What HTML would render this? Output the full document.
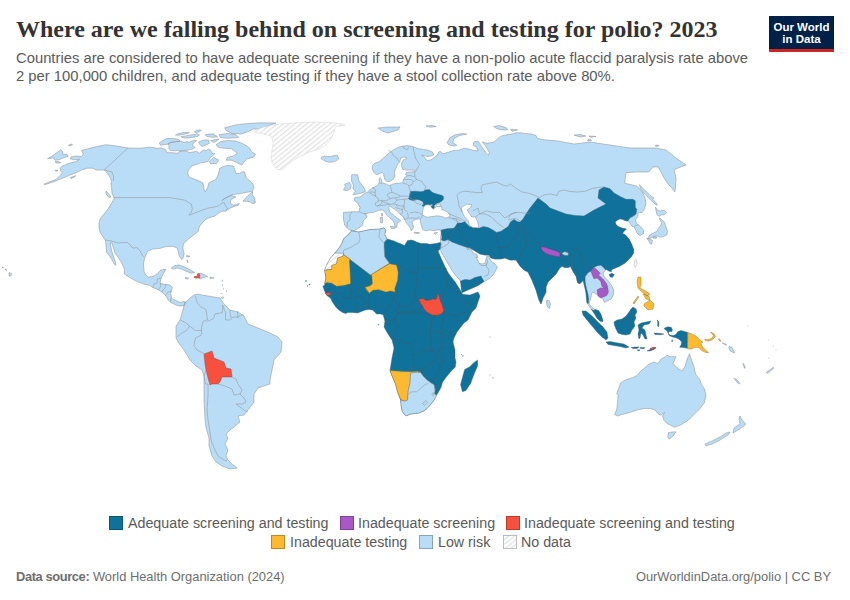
<!DOCTYPE html>
<html><head><meta charset="utf-8"><style>
html,body{margin:0;padding:0;background:#fff;}
body{width:850px;height:600px;position:relative;overflow:hidden;font-family:"Liberation Sans",Arial,sans-serif;}
.t{position:absolute;white-space:nowrap;}
#title{left:16px;top:16px;font-family:"Liberation Serif","DejaVu Serif",serif;font-weight:bold;font-size:24px;color:#333;letter-spacing:0px;}
.sub{left:16px;font-size:14.8px;color:#5b5b5b;}
#logo{position:absolute;left:769px;top:16px;width:65px;height:36px;background:#002147;}
#logo .bar{position:absolute;left:0;bottom:0;width:65px;height:3px;background:#ce261e;}
#logo .l{position:absolute;left:0;width:65px;text-align:center;color:#fff;font-weight:bold;font-size:11.5px;}
.lg{font-size:14.25px;color:#5a5a5a;}
.sw{position:absolute;width:14px;height:14px;box-sizing:border-box;border:1px solid rgba(0,0,0,0.25);}
.foot{font-size:12.9px;color:#6e6e6e;}
</style></head><body>
<svg width="850" height="600" viewBox="0 0 850 600" style="position:absolute;left:0;top:0">
<defs><pattern id="hatch" width="3.7" height="4" patternUnits="userSpaceOnUse" patternTransform="rotate(51)"><rect width="3.7" height="4" fill="#fff"/><line x1="0.6" y1="0" x2="0.6" y2="4" stroke="#e2e2e2" stroke-width="1.3"/></pattern></defs>
<path d="M62.6,172.9 L56,179.5 L49.4,181.9 L43.8,184.2 L44.5,184.8 L54.1,181.6 L61.6,178.6 L68.2,175.8 L72.9,173.9 L77.6,172 L81.4,170.1 L87.1,168.2 L92.7,168.2 L96.5,170.1 L101.2,170.1 L104.9,170.1 L106.5,172.5 L108.5,175 L110.5,178 L111.5,181.4 L111,184 L111.5,187.1 L112,193 L114,198 L114,199 L111,204 L108,209 L104,214 L100,219 L99,223 L99,227 L100,232.4 L102.4,235.9 L105.3,240 L105.9,244.1 L106.5,252.4 L108.8,254.7 L111.8,259.4 L114.1,264.1 L115.9,265.3 L115.3,261.8 L114.1,258.2 L111.8,251.2 L110.6,245.3 L110,243 L111.8,243 L112.9,246.5 L115.3,253.5 L118.8,258.2 L122.4,264.1 L124.7,270 L124.1,273.5 L127.1,275.9 L131.8,278.8 L137.6,281.8 L143.5,284.1 L149.4,285.3 L152.9,287.6 L157.6,289.4 L162.4,292.4 L165.9,295.9 L168.2,300 L171,302.5 L174,304 L177,305.5 L180,306 L184,305.5 L186.5,303.5 L186,302 L184,301.5 L180,302.5 L176,300.5 L173,299.5 L171.8,298.2 L170.6,293.5 L172.4,287.6 L170.6,285.3 L167,284.5 L163.5,284.1 L160,283 L161.2,278.2 L163.5,273.5 L165.9,269.4 L163,269.6 L160,270.6 L157.6,273.5 L152.9,276.5 L148.2,277.1 L145,274 L144.1,271.2 L143.5,264.1 L144.7,257.6 L145.3,256.2 L147.6,251.5 L152.4,249.1 L159.4,248.5 L165.3,246.8 L172.4,246.2 L177.1,247.9 L178.2,251.5 L179.4,256.2 L181.8,259.7 L182.9,258.5 L184.1,253.8 L182.9,247.9 L183.5,243.8 L187.6,239.7 L193.5,235 L198.2,231.5 L199.4,226.8 L201.8,223.2 L205.3,219.7 L210,217.4 L214.7,216.2 L218,213.5 L221.8,211.2 L225.3,211.2 L231.2,207.6 L238.2,205.3 L239.4,203.5 L233.5,205.3 L230,203 L231.2,199.4 L235.9,197 L231.2,195.3 L225.3,198.2 L221.8,200.6 L224.5,198.5 L227.6,197.1 L232.4,194.7 L240.6,193.5 L246.5,192.4 L252.4,191.2 L254.1,187.6 L252.4,182.9 L246.5,178.2 L244.5,172 L242.9,171.5 L239.4,173.5 L235.9,173.5 L235,170 L233.2,166 L228,165.5 L224.7,166 L219.4,168.6 L219.4,170 L218.2,174.7 L215.9,179.4 L208.8,182.9 L207.6,187.6 L205.3,191.8 L204.1,190 L203,182.9 L198.2,180.6 L188.8,177.1 L187.6,172 L188.5,170 L192.2,165.8 L200.7,163 L207.8,161.6 L210.6,157.4 L214.8,153.8 L212,153.1 L210.6,150.3 L208.5,149 L206.4,150.5 L203.6,150 L201.5,151.2 L199.4,153.3 L196.6,151.2 L193.8,151.9 L189.5,152.6 L186.7,151.2 L185.3,150.8 L182,151.5 L179,151.6 L177.5,153.3 L171.2,152.6 L167,152.8 L165.5,149.5 L161.3,148 L157.1,148.3 L152.8,147.6 L150,147 L145,147.8 L140,148.2 L128,148 L120,146.6 L113.4,145.6 L105.9,144.7 L96.5,146.6 L89,148.5 L81.4,150.4 L83.3,154.1 L81.4,156.5 L75.8,156 L71.1,156.9 L70.1,158.8 L73.9,159.8 L79.5,159.3 L75.8,161.6 L68.2,163.5 L61.6,166.4 L60.2,168.2 L60.7,171.1Z" fill="#b9ddf7" stroke="#8a8a8a" stroke-width="0.5" stroke-linejoin="round"/>
<path d="M159.2,143 L162.7,140.6 L167,138.5 L173.3,138.5 L178.2,139.2 L180.3,141 L176.8,141.3 L171.2,142.3 L168.3,144.1 L164.1,144.8 L160.6,145.2ZM168.3,143.4 L171.2,142.3 L180.3,141.3 L184.6,142.3 L187.4,141.3 L188.1,142.7 L190.9,141.3 L193.8,140.6 L196.6,140.6 L193.8,142.7 L192.3,144.8 L195.2,147.6 L192.3,149 L189.5,149.8 L185.3,150.5 L179.6,150.5 L174,150.8 L170.5,150.5 L168.7,148.3 L169.1,146.2ZM175.4,134.9 L179.6,133.2 L183.9,132.5 L189.5,132.1 L188.1,133.2 L183.2,134.6 L178.2,135.3ZM181.1,136.7 L185.3,136 L190.9,134.9 L195.2,134.6 L196.6,133.5 L199.4,134.9 L198,136.3 L192.3,137.4 L186.7,138.1 L183.2,137.8ZM194.5,131.4 L198,130 L201.5,130 L199.4,131.8 L195.2,132.5ZM205,134.8 L210,134 L213.4,134 L217.6,136.9 L212,137.3 L207,136.5ZM198.7,142 L203.6,139.9 L208.6,139.9 L209.3,143.4 L206,145 L202,146.5 L199.4,144.1ZM210.6,140.4 L219,139 L216,141.5 L213.4,142.5ZM219,134.8 L227.5,133.4 L236,134.8 L238.8,137.6 L227.5,138.3 L220.5,137.6ZM224.7,127.7 L236,124.9 L247.3,123.5 L260,122.8 L276,123 L268,126 L258,129 L253,129.1 L247.3,131.9 L241.7,134 L231.8,133.4 L226.1,130.5ZM216.2,144.6 L220.5,141.8 L227.5,140.4 L236,141.1 L241.7,143.2 L247.3,146.1 L250.1,148.9 L251.5,151.7 L255.8,154.5 L252.9,157.4 L247.3,158.8 L244.5,161.6 L241.7,165.1 L237.4,163 L231.8,160.2 L226.1,160.2 L227.5,157.4 L233.2,156 L237.4,153.1 L231.8,148.9 L224.7,148.2 L219,147.5 L217,146.1ZM209.2,161.6 L213.4,157.4 L219,160.2 L216.2,163.7 L210.6,163.7ZM242.9,201.2 L246.5,197.1 L251.2,192.4 L252.9,191.8 L252.4,194.7 L254.7,198.2 L255.3,202.9 L252.4,203.5 L250,201.8 L246.5,201.2ZM106,191 L108,193 L111,197 L109,197.5 L106,194ZM47.5,158.8 L52.2,156 L60.7,149.9 L63,151.8 L62.6,154.1 L67.3,154.6 L68.2,156.5 L64.5,157.4 L58.8,159.8 L55.1,160.2 L53.2,157.9ZM70.1,177.6 L75.8,175.8 L74,177.2 L71.1,178.6ZM68.5,145 L72,144 L72.5,145 L69,145.8ZM55,161.8 L58,161.4 L60.7,162.6 L57,163.2ZM55,170.2 L57.5,170 L57.8,171 L55.5,171.2Z" fill="#b9ddf7" stroke="#8a8a8a" stroke-width="0.5" stroke-linejoin="round"/>
<path d="M254,130.5 L261,127.7 L270,125.5 L278,124.2 L287,123.4 L296.5,122.8 L307,122.3 L317.7,122 L326,122.2 L333.2,122.8 L340,123.8 L345.2,125.2 L340,125.8 L336,126.3 L335,129 L333.9,132 L331.8,137.6 L329,141.5 L326.1,144.7 L323,147 L319,148.9 L315,150.3 L310.6,151.7 L305.5,153.8 L300.7,156 L297,158 L293.6,160.2 L290,163 L286.6,165.8 L283.5,168.5 L281,170.1 L277.8,169.2 L275.3,167.2 L272.8,164 L271.1,160.2 L271.2,156 L271.8,151.7 L272.5,147.5 L273.2,143.2 L272.5,139.5 L271.1,136.2 L266,134.5 L261.2,133.4 L255.5,132.6Z" fill="url(#hatch)" stroke="#d2d2d2" stroke-width="0.5" stroke-linejoin="round"/>
<path d="M321.2,157.4 L324.7,156 L327.5,156.5 L330.4,156.6 L334,155.6 L337.4,155.2 L338.8,158.8 L336.8,160.5 L334.6,161.6 L331.8,162 L329,162.3 L326,161.4 L323.3,160.2 L321.5,159Z" fill="#b9ddf7" stroke="#8a8a8a" stroke-width="0.5" stroke-linejoin="round"/>
<path d="M171.2,268 L174.7,265.6 L179.4,265 L184.1,266.8 L188.8,269.1 L194.7,272.6 L191.2,273.2 L186.5,271.5 L181.8,269.1 L177.1,268 L172.4,269.1ZM194.1,276.8 L197.1,276.2 L197.6,273.8 L200.6,273.2 L204.1,274.4 L207.6,276.8 L202.9,277.4 L200.6,279.1 L198.2,277.9 L194.7,277.9ZM185.3,277.4 L188.8,278 L187.6,279.1 L185.3,278.5ZM210,277.2 L213.5,277.4 L213.5,278.4 L210,278.4ZM186.5,255.6 L190,256.2 L189,257 L186.5,256.6ZM187.1,259.7 L188.2,262.6 L187.4,262.6 L186.8,260Z" fill="#b9ddf7" stroke="#8a8a8a" stroke-width="0.5" stroke-linejoin="round"/>
<path d="M194.1,276.8 L197.1,276.2 L197.6,273.8 L199.4,273.5 L199.8,276 L200,277.9 L198.2,277.9 L194.7,277.9Z" fill="#f8503e" stroke="#8a5050" stroke-width="0.4" stroke-linejoin="round"/>
<path d="M9,272.5 L11.5,273.5 L11,276 L9,276ZM5,269 L7,270 L6.5,270.8ZM2,267 L3.5,267.5 L3,268Z" fill="#b9ddf7" stroke="#8a8a8a" stroke-width="0.5" stroke-linejoin="round"/>
<path d="M186,302 L190,298 L194,295 L198,294 L202,295 L208,296 L214,297 L220,298 L222,301 L224,304 L230,310 L238,312 L244,316 L248,324 L258,328 L270,333 L278,337 L282,342 L281,352 L274,360 L272,370 L270,380 L270,384 L258,388 L254,394 L254,402 L248,410 L244,415 L238,416 L240,422 L234,427 L230,430 L226,434 L228,438 L225,444 L228,450 L226,456 L228,460 L232,464 L237,468 L230,469 L222,466 L216,462 L212,456 L209,446 L209,438 L206,428 L205,420 L204,400 L204,386 L204,376 L202,370 L196,366 L190,360 L184,350 L178,342 L176,338 L176,326 L180,320 L184,306Z" fill="#b9ddf7" stroke="#8a8a8a" stroke-width="0.5" stroke-linejoin="round"/>
<path d="M204,354 L212,351 L214,358 L224,362 L226,368 L231,369 L232,377 L222,377 L220,382 L218,384 L212,384 L210,385 L208,378 L206,370 L205,364Z" fill="#f8503e" stroke="#7a4040" stroke-width="0.4" stroke-linejoin="round"/>
<path d="M352.9,231.2 L349.4,230 L347,227.6 L344.7,225.3 L343.5,219.4 L343.5,212.4 L351.8,211.8 L358.8,211.8 L360,207.6 L357.6,203 L354.1,200.6 L354.1,198.2 L356,197.4 L360,197 L364.5,193.5 L367.5,192 L369.8,189.8 L372,188.3 L375,186.8 L377.3,185.6 L378.6,183.8 L379.1,182.4 L379.1,178.6 L380.1,177.6 L381.5,179.5 L381.9,182.4 L383.8,183.3 L386.6,184.2 L389.5,185.6 L392.3,184.2 L396.1,183.3 L399.8,183.3 L402.6,182.4 L403.6,179.5 L404.5,177.6 L407.4,175.8 L405.5,174.8 L406.4,172.5 L410.2,172 L415.8,171.5 L416.3,170.6 L412.1,170.1 L406.4,170.1 L402.6,169.2 L401.7,166.4 L401.7,162.6 L403.6,159.8 L406.9,158.4 L404.5,156.9 L400.8,157.9 L399.8,161.6 L397.5,164.5 L396.1,168.2 L394.2,172 L395.1,175.8 L393.2,179.5 L389.5,181.4 L386.6,181.4 L384.8,179.5 L383.8,175.8 L383.8,173.9 L381.9,172.5 L379.1,173.9 L376.3,174.8 L373.5,172 L372.1,168.2 L372.5,165.4 L374.4,163.5 L379.1,161.6 L383.8,157.9 L387.6,154.1 L392.3,150.4 L397.9,147.5 L402.6,146.1 L407.4,145.6 L413,146.6 L417.7,148.5 L423.4,149.4 L429,150.4 L432.8,152.2 L433.7,155.1 L430.9,156 L427.1,156.5 L423.4,155.5 L421.5,155.1 L425.2,157.9 L427.1,160.7 L430.9,159.8 L432.8,158.8 L434.6,156.9 L437.5,155.1 L438.4,152.2 L440.3,151.3 L442.2,153.2 L444,153.5 L447.1,152.5 L454.1,150.4 L458.4,150.4 L464,148.2 L468.2,148.9 L473.9,150.4 L478.1,151.1 L476.7,147.5 L473.2,145.4 L473.9,141.9 L478.1,141.2 L480.9,145.4 L483.8,149.6 L486.6,153.9 L488,155.3 L489.4,152.5 L485.2,145.4 L482.4,141.9 L486.6,143.3 L492.2,142.6 L495.1,141.2 L497.9,138.4 L500.7,136.2 L506.4,134.8 L512,134.1 L516.2,132.7 L520.5,132.7 L524.7,133.4 L531.8,134.1 L536,135.5 L537.4,138.4 L544.5,139.8 L553,140.5 L560,141.2 L566,142.5 L574,144 L582,143 L590,142 L600,143.5 L610,145 L620,146.5 L630,148 L638,148 L646,148 L656,148 L666,150 L671,154 L676,158 L681,161.5 L686,165 L682,166.5 L678,168 L674,170 L676,178 L675.5,186 L675,192 L671,187 L668,184 L664,178 L661,172 L658,167 L653,167 L648.7,172 L636.7,172 L626,172.7 L624.7,183.3 L631.3,184.7 L636.7,186 L642,191.3 L644.7,196.7 L646,203.3 L644.7,208.7 L642,212.5 L638.3,212.8 L637.5,213.3 L638.3,214.8 L637.5,217 L635.3,220 L636.8,223.8 L639,225.3 L641.3,227.5 L643.5,230.5 L643.5,233.5 L640.5,235.4 L639,235 L636.8,232.8 L635.3,229 L633.8,226.8 L631.5,226 L630,223 L627.8,221.1 L625,220.5 L622.5,219.3 L620,218.8 L617.5,220 L615,222 L616,224.5 L618,226.5 L620.5,227.5 L622.5,228.3 L626.3,229 L623.3,232 L622.5,233.5 L625.5,235 L629.3,239.5 L631.5,244 L633,247.8 L633.8,250 L633.5,253 L631.1,257 L625.3,262.8 L619.5,266.3 L613.6,268.7 L611.3,269.8 L611.3,271.6 L609,271 L606.6,269.5 L605.5,269.8 L603.1,273.3 L604.3,276.8 L607.8,280.3 L611.3,285 L613.6,289.7 L613.6,294.3 L611.3,299 L606.6,301.3 L604.3,302.5 L603.1,299 L600.8,297.8 L598.5,296.6 L595,293.1 L592.7,292 L591.5,294.3 L590.3,300.1 L589.2,303.6 L591.5,307.1 L595,309.5 L598.5,310.6 L600.8,314.1 L602,317.6 L603,321.5 L600,321 L597,318 L594,313 L591,309 L588.5,305 L587,303 L586.5,298 L586,293 L585,288 L584,284 L583.3,280.3 L579.8,283.8 L577.5,282.7 L576.3,276.8 L572.8,271 L570.5,266.3 L568.2,267.5 L564.7,267.5 L562.3,266.3 L560,267.5 L556,274 L552,278 L548,282 L546,287 L546,292 L543,298 L541,304 L539,300 L536,290 L534,285 L532,280 L528,272 L524,270 L520,266 L516,260 L510,260 L505,258 L500,259 L495,259 L491,258 L489,255 L485,255 L480,254 L475,251 L469.5,247.5 L468,248 L471,248.8 L473,253 L477,254.5 L478,257.5 L476,257 L477,259 L479,263 L482,264 L485,263 L486,259 L487,256 L489,256 L489.5,258 L491,261 L495,264 L497.5,267 L496,270 L493,275 L489,279 L484,281.5 L478,285.5 L470,289 L462,292.5 L461.8,291 L461.5,289 L461,285 L460.5,281 L459,279 L456,276 L453,272 L450,267 L447,262 L444,257 L441,251.5 L440.3,248.8 L440.5,244 L440.5,237.5 L441.3,232.3 L440.5,230 L437.5,230 L433.8,230.8 L430,230 L425.5,230.8 L422.5,229.3 L421.8,227 L421,224 L420.3,221 L420.3,219.5 L418.8,218.8 L416.5,219.5 L413.5,220.3 L412,221.8 L412.8,224.8 L413.5,227 L412.8,229.3 L411.3,230.8 L410.5,228.5 L409,226.3 L406.8,223.3 L405.3,221 L404.5,218.8 L403,216.5 L400,214.3 L397,211.3 L394,209 L391,206.8 L389.5,206.5 L388.8,207.5 L389.5,211.3 L392.5,214.3 L396.3,217.3 L399.3,219.5 L400.8,221 L399.3,221.8 L397.8,222.5 L397,224.8 L397,227 L395.5,227.8 L394.5,224 L393,220.5 L390,218.3 L387,215.3 L384.8,212.3 L382.5,210 L380,210.2 L377.3,210.8 L373.5,212.3 L369,213 L364.5,213.8 L365.9,214.1 L367,217 L363.5,220.6 L362.4,225.3 L357.6,228.8Z" fill="#b9ddf7" stroke="#8a8a8a" stroke-width="0.5" stroke-linejoin="round"/>
<path d="M351.8,174.7 L357.6,174.7 L358.8,180.6 L361.2,184.1 L364.7,188.8 L365.3,191.8 L360,193.5 L352.9,194.7 L355.3,191.2 L352.9,188.8 L353.5,185.3 L351.8,181.8 L351.2,177ZM344.7,184.1 L349.4,182.4 L351.2,185.3 L350.6,188.8 L347,190.6 L343.5,190 L345.3,186.5ZM390.3,226.3 L394.8,226.8 L394.5,228.5 L391,228.3ZM380.3,217.5 L382.5,217.3 L382.5,222.8 L380.5,222.8ZM381.6,213.5 L382.6,213.5 L382.6,216 L381.6,216ZM433.8,233 L437.5,232.3 L435.3,234.5ZM414.3,232.3 L419.5,232.6 L419,233.4 L414.5,233.2ZM378,128 L388,127 L400,127 L398,130 L388,133 L382,131ZM426,126 L432,125.5 L436,126.5 L430,127.2ZM447.1,142.6 L449.9,137.6 L455.5,134.8 L462.6,133.4 L466.8,134.1 L459.8,135.5 L454.1,138.4 L452.7,142.6 L456.9,145.4 L454.1,146.1 L448.5,144.7ZM493.6,126.4 L499.3,125.6 L506.4,127.8 L507.8,129.9 L502.1,129.9 L496.5,128.5ZM574,135 L580,134.5 L586,136 L580,137ZM589,136 L596,136.5 L590,137.3ZM587.5,139.8 L590,139 L591.5,140.5 L588,141ZM655,145.5 L658,145 L659,146 L656,146.4ZM639.3,184.7 L644.7,190 L650,195.3 L654,198 L652.7,199.3 L656.7,203.3 L657.3,205.3 L654,203.3 L650,199.3 L644.7,194 L640.7,188.7ZM655.5,207.3 L657,209.5 L660,211 L664.5,210.3 L666.8,212.5 L664.5,214.8 L661.5,214.8 L659.3,216.3 L657,214.8 L656.3,211.8ZM659.3,217.8 L661.5,219.3 L664.5,222.3 L666,226.8 L667.5,231.3 L666.8,235 L663,236.5 L660,237.3 L657,235.8 L654,236.5 L651,238 L648,238.8 L649.5,235 L652.5,233.5 L657,231.3 L658.5,228.3 L660.8,225.3 L661.5,222.3 L660,220ZM646.5,238 L649.5,238.8 L652.5,240.3 L651.8,244 L650.3,244 L648.8,241ZM653.3,236.9 L657,236.9 L656.3,238.3 L653.3,238.3ZM547,300 L549,300.5 L550.5,304 L549.5,308.5 L547.5,307 L546.5,303ZM510.6,129.2 L517.6,129.9 L512,131.3Z" fill="#b9ddf7" stroke="#8a8a8a" stroke-width="0.5" stroke-linejoin="round"/>
<path d="M634.6,260.5 L636.4,259.3 L637,264 L635.2,267.5 L634,265.2Z" fill="url(#hatch)" stroke="#b0b0b0" stroke-width="0.5" stroke-linejoin="round"/>
<path d="M441.2,230 L447,228.8 L454.1,228.2 L457.6,223 L461.2,223 L464.7,221.8 L467,224.1 L469.4,226.5 L472.9,227.6 L478.8,228.2 L483.5,226.5 L488.2,227.6 L492.9,230 L496.5,232.4 L501.2,231.2 L504.7,228.8 L508.2,226.5 L510.6,221.8 L514.1,219.4 L517.6,221.8 L520,222 L523,219 L526,214 L530,208 L534,203 L538,198 L542,201 L546,204 L550,208 L558,211 L566,214 L575,215.5 L584,216 L589,213 L594,210 L600,207 L606,204 L602,201 L598,198 L599,190 L604,187 L610,188.7 L614,193 L620.7,196.7 L626,199.3 L632.7,199.3 L635.3,200.7 L635.3,207.3 L636.8,209.5 L636,214 L633,216.3 L630,217.8 L627.8,221.1 L625,220.5 L622.5,219.3 L620,218.8 L617.5,220 L615,222 L616,224.5 L618,226.5 L620.5,227.5 L622.5,228.3 L626.3,229 L623.3,232 L622.5,233.5 L625.5,235 L629.3,239.5 L631.5,244 L633,247.8 L633.8,250 L633.5,253 L631.1,257 L625.3,262.8 L619.5,266.3 L613.6,268.7 L611.3,269.8 L611.3,271.6 L609,271 L606.6,269.5 L605.5,269.8 L603,267 L600.8,265.2 L597.3,265.7 L593.8,267.5 L590.9,271 L588,272.7 L585.1,276.8 L585.1,281.5 L585.7,285 L586.8,289.7 L588,294.3 L588.6,299 L588.3,303.5 L587,303 L586.5,298 L586,293 L585,288 L584,284 L583.3,280.3 L579.8,283.8 L577.5,282.7 L576.3,276.8 L572.8,271 L570.5,266.3 L568.2,267.5 L564.7,267.5 L562.3,266.3 L560,267.5 L556,274 L552,278 L548,282 L546,287 L546,292 L543,298 L541,304 L539,300 L536,290 L534,285 L532,280 L528,272 L524,270 L520,266 L516,260 L510,260 L505,258 L500,259 L495,259 L491,258 L489,255 L485,255 L480,254 L475,251 L469.5,247.5 L468,247.8 L466,247 L460,245 L452,242 L448,239.5 L444,241 L441.5,240 L442,237 L441.3,234Z" fill="#10729a" stroke="#3c5a6e" stroke-width="0.4" stroke-linejoin="round"/>
<path d="M609,274.5 L611.9,273.3 L614.2,274.5 L612.5,277.4 L610.1,276.8Z" fill="#10729a" stroke="#3c5a6e" stroke-width="0.4" stroke-linejoin="round"/>
<path d="M410.2,191.5 L415.4,191.2 L420.5,191.7 L423.6,191.2 L424.7,190.2 L426.7,189.7 L429.8,189.7 L430.9,191.2 L433,192.8 L436.1,193.8 L438.6,194.6 L442.3,195.4 L443.6,196.9 L443.3,199.5 L442.3,200.5 L441.2,201.6 L440.2,202.1 L438.6,202.9 L437.1,203.1 L435.5,204.2 L435,204.7 L434,205.7 L434.5,207.3 L433.5,208.8 L431.9,207.8 L430.9,206.2 L432.4,205.7 L433,204.7 L431.9,204.2 L429.8,204.7 L427.8,204.2 L425.7,204.7 L424.7,205.2 L424.2,206.2 L422.6,206.2 L422.1,205.2 L423.6,204.2 L423.1,202.1 L421.6,201 L419.5,200 L417.4,199.5 L415.4,200 L413.3,200.5 L410.7,200 L408.6,199 L409.1,196.9 L409.7,194.3 L410.2,192.8Z" fill="#10729a" stroke="#3c5a6e" stroke-width="0.4" stroke-linejoin="round"/>
<path d="M460.5,281 L465,279.5 L470,280 L475,277.5 L481,276 L484,281.5 L478,285.5 L470,289 L462,292.5 L461.8,291 L461.5,289 L461,285Z" fill="#10729a" stroke="#3c5a6e" stroke-width="0.4" stroke-linejoin="round"/>
<path d="M595,309.5 L598.5,310.6 L600.8,314.1 L602,317.6 L603,321.5 L600,321 L597,318 L594,313 L591.5,309.5 L593.8,310.6Z" fill="#10729a" stroke="#3c5a6e" stroke-width="0.4" stroke-linejoin="round"/>
<path d="M541.5,246.5 L546,247.5 L550,249 L555,250.5 L559,252 L560.5,254 L559.5,257 L555,256.2 L550,255 L546,253.5 L542.5,251 L541,248.5Z" fill="#a858c8" stroke="#5a3a6a" stroke-width="0.4" stroke-linejoin="round"/>
<path d="M561.7,253.5 L564.7,251.7 L568.2,252.9 L568.2,255.2 L564.7,255.2Z" fill="#b9ddf7" stroke="#8a8a8a" stroke-width="0.5" stroke-linejoin="round"/>
<path d="M590.9,271 L593.8,267.5 L596.2,269.2 L598.5,271.6 L600.2,273.3 L598.5,275.1 L603.1,279.2 L606.6,283.8 L607.8,287.3 L604.3,288.5 L602,286.2 L600.8,281.5 L597.3,278 L593.8,278.6 L592.7,275.7Z" fill="#a858c8" stroke="#5a3a6a" stroke-width="0.4" stroke-linejoin="round"/>
<path d="M597.3,289.7 L600.8,287.9 L604.3,288.5 L607.8,287.9 L608.4,292 L606.6,295.5 L604.3,296.6 L600.8,297.8 L598.5,296.1 L597.3,293.1Z" fill="#a858c8" stroke="#5a3a6a" stroke-width="0.4" stroke-linejoin="round"/>
<path d="M422.5,214.3 L422.8,210 L423.5,207.5 L424.5,206.3 L425.7,205.2 L428,205 L429.8,205.2 L430.9,206.5 L431.9,208.2 L433.5,209.2 L435,207.8 L436.5,206.6 L439,206.8 L441.3,206.3 L442,209.8 L445,210.5 L448,212.5 L450,215.3 L448.2,217.6 L445,218 L442,216.5 L437.5,215.8 L431.5,216.5 L427,217.3 L422.5,215ZM461.2,207.6 L467,204.1 L471.8,204.7 L470.6,207.6 L467,210 L469.4,213.5 L471.8,217 L475.3,217 L477.6,221.8 L478.8,227.6 L472.9,227.6 L469.4,225.3 L468.2,220.6 L464.7,217 L462.4,212.4ZM436.1,204.7 L438.1,204.2 L440.7,204.2 L441.2,205.2 L439.2,206.2 L437.1,206.2Z" fill="#fff" stroke="#8a8a8a" stroke-width="0.5" stroke-linejoin="round"/>
<path d="M351.8,230.9 L358.8,232.1 L369.4,229.7 L380,229.1 L383.5,227.9 L385.9,229.7 L384.7,234.4 L387.1,239.1 L390,239.8 L394,240.9 L397.8,242.8 L400.8,243.8 L404.5,245.5 L406,243 L407.5,240.5 L411.3,240.1 L414,240.8 L416.5,242 L421,243.5 L426.3,243.5 L430,244.3 L436,243.5 L439.8,242.5 L441,243.2 L440.2,249 L438.5,250.5 L438.4,252 L441,258 L443.8,264 L446,269 L449,274 L452,278 L455.2,282 L458.4,287 L461.5,292 L462.2,294 L464,294.5 L470,295 L478,292 L480,296 L476,308 L472,312 L468,320 L464,323 L460,328 L457,332 L454,338 L453,342 L455,350 L455,358 L456,362 L455.3,367 L450.6,371.8 L445.9,377.6 L442.4,382.4 L441.2,387 L438.5,392 L436.5,395.3 L434.1,400 L429.4,405.9 L424.7,410.6 L418.8,412.9 L410.6,414.1 L405.9,415.9 L402.4,411.8 L401.2,405.9 L400.6,400 L397.6,391.8 L395.3,383.5 L391.8,375.3 L390,370.6 L392,358 L394,348 L392,340 L388,334 L384,327.1 L384.9,321.4 L384,317.6 L383.1,314.8 L380.2,313.9 L376.5,313.9 L374.6,312 L372.7,310.1 L368.9,309.6 L365.2,310.1 L361.4,311.5 L357.6,312.9 L352.9,312.5 L348.2,312.5 L345.4,313.4 L342.6,312.5 L338.8,310.1 L336,307.3 L334.1,304.5 L332.2,301.6 L330.4,297.9 L327.5,296 L325.6,293.2 L324.7,291.3 L323.8,288.5 L322.8,286.6 L324.7,284.7 L325.3,283.8 L324.7,283.8 L325.9,277.9 L325.3,274.4 L324.7,270.3 L327.1,263.8 L330.6,258 L334.7,253.2 L338.8,248.5 L341.8,243.8 L343.5,239.1 L348.2,234.4Z" fill="#10729a" stroke="#3c5a6e" stroke-width="0.4" stroke-linejoin="round"/>
<path d="M351.8,230.9 L358.8,232.1 L369.4,229.7 L380,229.1 L383.5,227.9 L385.9,229.7 L384.7,234.4 L387.1,239.1 L384.1,242.6 L384.1,247.4 L384.7,256.8 L389.4,263.2 L370.6,275 L351.2,260.3 L343.5,254.4 L343,253.2 L334.7,253.2 L338.8,248.5 L341.8,243.8 L343.5,239.1 L348.2,234.4Z" fill="#b9ddf7" stroke="#8a8a8a" stroke-width="0.5" stroke-linejoin="round"/>
<path d="M334.7,253.2 L343,253.2 L343,256.2 L337.6,258 L336.5,263.8 L331.8,265.6 L331.8,269.1 L324.7,269.9 L327.1,263.8 L330.6,258Z" fill="url(#hatch)" stroke="#b0b0b0" stroke-width="0.5" stroke-linejoin="round"/>
<path d="M324.7,270.3 L331.8,269.5 L331.8,265.6 L336.5,263.8 L337.6,258 L343,256.2 L343.5,254.4 L351.2,260.3 L349.4,260.3 L350,269.7 L350.6,283.8 L343.5,285.6 L336.5,286.2 L331.8,283.2 L327.1,282.6 L324.7,283.8 L325.9,277.9 L325.3,274.4Z" fill="#fdba30" stroke="#7a6a3a" stroke-width="0.4" stroke-linejoin="round"/>
<path d="M389.4,263.8 L396.5,265 L398.2,272.1 L397.6,280.3 L394.7,288.5 L395.3,292.1 L390.6,290.9 L385.9,292.1 L378.8,289.7 L372.9,290.3 L369.4,293.2 L367.1,290.9 L364.7,287.4 L370.6,285.6 L372.4,283.8 L371.8,275.6 L370.6,275Z" fill="#fdba30" stroke="#7a6a3a" stroke-width="0.4" stroke-linejoin="round"/>
<path d="M325.2,293.2 L327.5,292.7 L330.4,292.7 L331.3,294.1 L329.4,295.1 L327.5,295.5 L326.1,294.6Z" fill="#f8503e" stroke="#7a4040" stroke-width="0.4" stroke-linejoin="round"/>
<path d="M418.8,299.3 L420,299 L423,298.5 L426,300.5 L430,300 L433,299 L436,299.5 L437,296.5 L438,293.5 L439,295.5 L440,300 L441.5,303 L444,311 L441,314 L437,315.5 L433,315 L430,314 L427,312 L424,309 L422,305 L420,303Z" fill="#f8503e" stroke="#7a4040" stroke-width="0.4" stroke-linejoin="round"/>
<path d="M390,370.6 L400,371.2 L409.4,371.8 L418.8,371.2 L417.6,372.4 L410.6,373 L410,383.5 L408.2,390.6 L407.6,400 L404.7,401.2 L400.6,399.4 L397.6,391.8 L395.3,383.5 L391.8,375.3Z" fill="#fdba30" stroke="#7a6a3a" stroke-width="0.4" stroke-linejoin="round"/>
<path d="M410.6,373 L415,372.5 L420,371.8 L423.5,376.5 L427,380 L431.8,383.5 L434.1,384.7 L435.3,389.4 L434.7,394.1 L436.5,395.3 L434.1,400 L429.4,405.9 L424.7,410.6 L418.8,412.9 L410.6,414.1 L405.9,415.9 L402.4,411.8 L401.2,405.9 L400.6,400 L404.7,401.2 L407.6,400 L408.2,390.6 L410,383.5Z" fill="#b9ddf7" stroke="#8a8a8a" stroke-width="0.5" stroke-linejoin="round"/>
<path d="M477.6,360 L477.6,365.9 L474.1,374.1 L470.6,383.5 L465.9,390.6 L462.4,391.8 L460.6,384.7 L462.4,377.6 L464.7,369.4 L469.4,367 L474.1,362.4Z" fill="#10729a" stroke="#3c5a6e" stroke-width="0.4" stroke-linejoin="round"/>
<path d="M582,311 L586,311 L592,316 L598,322 L603,327 L607,332 L608,338 L606,340 L602,337 L597,332 L592,326 L587,320 L583,315ZM606,342 L610,341.6 L618,343 L624,344 L629,347 L626,348 L620,346.6 L614,345.6 L608,344.4ZM631,347.6 L635,347 L639,347 L637,348.4 L633,348.6ZM640,347.4 L645,347.6 L644,348.8 L640.5,348.6ZM637,350 L640,349.8 L639,351ZM647,351 L650,349.5 L652,348 L656,347.4 L654,349.4 L650,351ZM614,322 L617,320 L622,319 L626,316 L629,312 L631,309 L633,307 L636,309 L637,312 L635,315 L636,318 L634,322 L635,326 L632,330 L630,334 L626,335 L622,334.4 L618,333 L616,329 L614.4,325ZM638,325 L641,323 L646,322 L651,321 L649,324 L644,325 L642,328 L645,330 L646,335 L647,339 L645,339 L643,335 L641,333 L640,338 L639,339 L638,334 L639,330ZM657,320 L658.5,321 L659,323 L658.6,327 L657.5,326 L657.8,322.5ZM654,333 L659,333.3 L664,334 L660,334.8 L655,334.4ZM664.2,328.2 L667.7,326.8 L671.2,327.2 L672.3,329.3 L672,331.4 L669.1,331.4 L668.4,333.2 L669.8,334.9 L673.3,335.6 L676.2,334.2 L677.6,331.8 L681.1,330.4 L684.6,331.4 L687.8,332.5 L687.5,348.3 L683.2,347.6 L679.7,347.3 L681.1,344.8 L681.8,342 L679,339.2 L676.2,337.8 L672.6,337.1 L669.1,335.6 L668.1,333.2 L667,330.7 L664.9,329.6Z" fill="#10729a" stroke="#3c5a6e" stroke-width="0.4" stroke-linejoin="round"/>
<path d="M650,348.5 L654,347 L656,348 L652,349.5Z" fill="#f8503e" stroke="#7a4040" stroke-width="0.4" stroke-linejoin="round"/>
<path d="M687.8,332.5 L691.7,333.9 L695.2,335.6 L698.8,338.5 L701.6,341.3 L703,342 L700.9,343.4 L702.3,346.2 L704.4,349.1 L708.6,352.6 L705.8,352.6 L701.6,350.5 L698.8,347.6 L694.5,347.6 L691.7,349.1 L688.9,349.1 L687.5,348.3ZM704.7,340 L708,341.3 L712,340 L715.3,336.7 L714.5,334 L710.7,332 L711,332.8 L713.5,335.5 L711.5,338.5 L708,339.8 L705.5,339ZM719,338.5 L721,341 L720,341.6 L718.6,339.5Z" fill="#fdba30" stroke="#7a6a3a" stroke-width="0.4" stroke-linejoin="round"/>
<path d="M638,277 L641,277 L641,284 L640,288 L644,290 L650,294 L647,296 L642,292 L638,288 L637,282ZM644,304 L650,300 L654,304 L653,309 L648,310 L644,306ZM633,303 L638,296 L638.8,297 L634,304ZM643,294 L649,296 L650,300 L646,299Z" fill="#fdba30" stroke="#7a6a3a" stroke-width="0.4" stroke-linejoin="round"/>
<path d="M614.5,414.5 L616.7,410 L617.5,402.5 L618.2,395 L616.7,393.5 L619,387.5 L620.5,383 L625,380 L632.5,377.7 L637,375.5 L641.5,370.2 L644.5,368 L649,364.2 L653.5,362 L658,363.5 L661,359 L665.5,356.7 L667,355.2 L670,356.7 L676,356.7 L673,363.5 L677.5,368 L682,371 L685,366.5 L687.2,359 L689.5,353.7 L691.7,360.5 L694,366.5 L695.5,374 L700,380 L701.5,384.5 L704.5,389 L706,395 L704.5,402.5 L700,408.5 L694,414.5 L688,420.5 L680.5,425 L674.5,427.2 L670,425 L667,423.5 L664,420.5 L662.5,416 L664.7,412.2 L661,415.2 L658,413.7 L655,410 L650.5,408.5 L644.5,408.5 L637,410 L628,413 L622,414.5 L617.5,416Z" fill="#b9ddf7" stroke="#8a8a8a" stroke-width="0.5" stroke-linejoin="round"/>
<path d="M668.5,432.5 L676,431.7 L673,436.2 L669.2,439.2 L667.7,437ZM740,416 L742,420 L746,424 L744,426 L738,430 L733,433 L734,428 L740,424 L739,418ZM730,432 L728,435 L720,440 L712,444 L706,446 L705,444 L712,441 L720,437 L726,433ZM734.7,378 L737,380 L740,383.3 L739.3,384 L736,381 L734.2,378.6ZM743.3,363.3 L744.3,365 L745.3,368 L744.6,368.3 L743.4,365.5 L742.9,363.6ZM766,372.5 L768,371 L770,370 L773.3,367.3 L774,368 L771,370.5 L768,373.3ZM722.7,342.7 L726.7,344.7 L726.5,345.3 L722.5,343.3ZM729,346.5 L732,347.3 L734.7,352.7 L733.8,352.9 L730,350.7 L728.7,347.2Z" fill="#b9ddf7" stroke="#8a8a8a" stroke-width="0.5" stroke-linejoin="round"/>
<path d="M221.7,280.5 L222.4,279.8 L223.1,280.5 L222.4,281.2ZM221.9,285 L222.5,284.4 L223.1,285 L222.5,285.6ZM222.9,289 L223.5,288.4 L224.1,289 L223.5,289.6ZM225.9,291 L226.5,290.4 L227.1,291 L226.5,291.6ZM221,293.5 L221.5,293 L222,293.5 L221.5,294ZM221.5,297 L223.5,296.8 L223.8,298.2 L221.8,298.4ZM492.3,378 L493,377.3 L493.7,378 L493,378.7ZM489.5,375 L490,374.5 L490.5,375 L490,375.5ZM489.5,337 L490,336.5 L490.5,337 L490,337.5ZM768.35,340 L768.7,339.65 L769.05,340 L768.7,340.35ZM772.95,346 L773.3,345.65 L773.65,346 L773.3,346.35ZM775.65,350 L776,349.65 L776.35,350 L776,350.35ZM768.35,358 L768.7,357.65 L769.05,358 L768.7,358.35ZM747.65,326 L748,325.65 L748.35,326 L748,326.35Z" fill="#b9ddf7" stroke="#999" stroke-width="0.4" stroke-linejoin="round"/>
<path d="M305.3,281 L306,280.3 L306.7,281 L306,281.7ZM308.8,284.5 L309.5,283.8 L310.2,284.5 L309.5,285.2ZM307,286 L307.5,285.5 L308,286 L307.5,286.5ZM462.4,356 L463,355.4 L463.6,356 L463,356.6ZM461.1,354.5 L461.5,354.1 L461.9,354.5 L461.5,354.9ZM671.7,340 L672.5,339.8 L672.6,341.6 L671.8,341.8ZM377.9,324.7 L378.4,324.2 L378.9,324.7 L378.4,325.2Z" fill="#10729a" stroke="#3c5a6e" stroke-width="0.3" stroke-linejoin="round"/>
<path d="M128,148 L116,159 L104.5,169.8 L108,171 L112,172 L113.5,176 L113.5,181M114,197.6 L140,197.6 L170,197.6 L177,198.8 L184.1,200 L187.6,201.8 L191.2,204.1 L192.4,208.8 L191.2,212.4 L188.8,215.3 L193.5,213.5 L199.4,211.2 L207.6,208.2 L217,206.5 L221.8,203.5 L224.1,202.4 L225.3,205.3 L227.6,208.8 L225.3,210.6M105.3,240 L111.8,241.2 L117.6,242.9 L127.1,242.4 L130.6,245.3 L132.9,248.2 L136.5,247.6 L140,250.6 L142.4,255.9 L144.7,257.6M161.2,278.2 L157.5,279 L157,283 L154,284 L152.9,287.6M160,283 L161,286 L159,289 L158,290M166,284.5 L165,288 L162,291 L162.5,292.5M171.5,291 L168,292 L165.5,295.5M170.6,298.2 L171,302.5M185,302 L183.5,306.5M195.5,296 L197,302 L200,306.5 L206,309.5 L207.5,320 L203,321.5 L201.5,327.5 L201.5,335M207.5,321.5 L213.5,318.5 L215,314 L222.5,312.5 L222.5,305M222.5,305 L225.5,312.5 L225.5,320 L230,320 L233,317 L237.5,317 L240.5,315.5 L243.5,314M230,310 L230,312.5 L231,318M237.5,311 L238,318.5M180.5,320 L186,323 L189.5,326M177.5,336.5 L182,333 L186.5,330.5 L189.5,326 L195.5,330.5 L201.5,330.5M201.5,335 L195.5,338 L194,345.5 L197,350 L203,353 L204,354M206,370 L204,376 L205.5,384 L208,384 L208,396 L207,410 L208,420 L210,432 L211,440 L214,448 L218,456 L224,460 L227,461M218,384 L225,386 L232,389 L234,395 L240,394 L242,390 L238,384 L236,379 L232,377M240,394 L244,398 L246,402 L242,404 L236,404M236,404 L240,407 L244,410 L248,412M388,150 L392,152.5 L393.5,156 L397,158 L398.5,161 L399.8,161.6M402.5,146 L404,148.5 L407.4,149.5 L409,147M413,147 L414,152 L415.8,158.8 L419.6,164.5 L416.3,170.3M407.5,175.8 L410,175.5 L414.7,176.8M403.5,179.5 L411,179.5 L413.5,181.5M414.5,171.8 L415,176.5 L416.5,179.5M413.5,181.5 L416.5,179.5 L419.5,180.5 L422,181.5 L423.5,184.5 L426,186.5 L425,188.5 L425,190M413.5,181.5 L411.5,185 L408.5,185.5 L406.5,184 L403,183.5M408.5,185.5 L409.5,188.5 L410.4,191.5 L410.4,193.8 L409.2,197.3M390.4,185.5 L391,188.5 L391.5,190.8 L392.1,192.3M387.4,194.4 L389.2,193.2 L392.1,192.3 L394.5,193.2 L397.4,194.4 L400.4,196.1 L398.6,197.3 L395.6,197.9 L392.7,197.9 L390.4,198.5 L388.6,197.3 L387.4,195.5 L387.4,194.4M400.4,196.1 L403.3,196.1 L406.8,196.1 L408.6,196.7M396.8,200.2 L400.4,199.6 L404.5,199.1 L408,199.1M381.5,200.2 L385.6,200.8 L388.6,199.6 L390.4,198.5M382.1,201.4 L386.8,203.2 L390.4,204.4 L393.9,203.8 L396.8,200.2 L395.6,197.9M375.1,203.2 L378,201.4 L381.5,200.2 L382.1,202 L380.9,204.4 L377.4,206.1 L375.6,205.5 L375.1,203.2M375.1,196.1 L378,197.9 L378.6,199.6 L378,201.4M372.1,187.3 L374.5,188.5 L375.6,190.2 L375.1,193.2 L375.6,195.5 L375.1,196.1M368.5,192.4 L371.5,193.8 L373.9,195.5 L375.6,195.5M369.8,192 L373.9,192 L375.1,193.2M379.8,183.4 L382.1,183.4M377.4,206.1 L380.9,205.5 L385.6,204.9 L390.4,204.4M393.9,203.8 L396.2,204.4 L397.4,206.7M396.2,204.4 L400.4,206.1 L403.3,205.5M404.5,199.1 L404.5,202.6 L403.9,205.5 L404.5,209.8 L407.5,212M408.6,196.7 L410.9,198.5 L413.9,199.6 L416.5,199.4M409.8,212.8 L415,212 L418.8,212.8 L421.8,214.3M407.5,212.8 L408.3,216.5 L407.5,218M407.5,218 L413.5,218 L418,218 L419.5,216.5M403.8,219.5 L407.5,218.8M395.5,207.5 L398.5,208.3 L402.3,209.8 L402.3,213.5 L400,214.3M403,216.5 L404.5,219.5M403.9,205.5 L402.3,209.8M413.9,199.6 L416,203 L420.5,204.5 L422.4,202.9M351.8,211.8 L350,215 L350,220 L347.5,222 L347,227.6M365.9,214.1 L362,213 L358.8,211.8M420.3,219.5 L421.5,217 L422.5,215M448,213 L452,215 L456,216.8 L460,218.2 L463.5,220.6 L466,221.5M448.5,217.6 L451,218 L454,219.4 L457,221 L458.5,223M452,218.3 L456,218.6 L459,220 L461.2,221M456,219 L457.5,222 L458.8,224.1M462.4,212.4 L459,206 L458.4,201.1 L456.9,195.4 L459.8,192.6 L464,191.2 L471.1,191.9 L476.7,192.6 L482.4,192.6 L480.9,188.4 L482.4,184.8 L489.4,183.4 L496.5,182 L502.1,184.8 L506.4,186.2 L510.6,184.1 L516.2,188.4 L521.9,191.9 L529,193.3 L534.6,195.4 L539.5,197.5M539.5,197.5 L544.5,194.7 L550.1,194 L557.2,195.4 L558.6,191.2 L564,190 L570,191.5 L578,192 L586,191 L592,188.5 L598,187.5 L604,187M472.9,211 L478.1,208.1 L479.5,213.8 L486.6,210.9 L493.6,212.4 L499.3,212.4 L504.9,218 L509.2,215.2 L514.8,212.4 L519.1,212.4 L524,213 L528.9,213.8 L530.4,212.4M479.5,213.8 L485.6,214.1 L491.3,216.9 L496.9,222.6 L502.6,226.8 L503.5,227.9M475.3,217 L479.5,213.8M508.2,218.4 L511.1,214.1 L516.7,212.7M508.2,219.8 L515.3,218.4 L518.1,219.8 L520.9,221.2M466,247 L467.5,249.5 L470.5,249.2M476,257 L477.5,257.3M479,263 L481,265.5 L486,265.5 L487,263M486,265.5 L487.5,262 L487,259M486,265.5 L489,270 L488,275 L484,276.5M441,248 L445,246 L449,243 L448,239.8M441.2,243.3 L440.6,248.5M633.5,226.5 L636,225.5 L638.5,224.5M358.8,232.1 L360,239.1 L358.8,242.6 L350.6,247.4 L343.5,250.3 L343.5,254.4M380,229.1 L378.8,236.8 L383.5,242.6M408.2,394.1 L411.8,391.8 L416.5,391.8 L420,389.4 L424.7,384.7 L428.2,383.5M422.4,403.5 L425.9,400.6 L427.6,402.4 L424.7,405.3 L422.4,403.5M432.5,393 L434,393.2 L434.3,395 L432.8,395.5 L432,394.2 L432.5,393" fill="none" stroke="#8c8c8c" stroke-width="0.5" stroke-linejoin="round"/>
<path d="M335,285.6 L335.5,292.2M330.4,292.7 L335.5,293.2M323.8,288.9 L331.3,288.9M323.8,290.2 L331.3,290.2M335.5,293.2 L340.7,294.1 L343.5,297 L344.5,298.8M332.2,301.6 L335.1,299.8 L337.9,300.7M337,303.5 L338.8,305.4M338.8,301.6 L342.6,304.5 L343.5,308.2 L345.4,313M344.5,298.8 L348.2,297.9 L352,298.8 L354.8,297M355.8,297 L355.8,303.5 L356.7,312M355.8,297 L359.5,297 L363.3,297M363.3,297 L363.3,303.5 L363.8,310.1M365.2,297 L366.1,303.5 L366.1,309.2M368.9,294.1 L368.9,301.6 L368.9,309.2M350.1,297.9 L351.1,294.1 L355.8,290.4 L361.4,286.6 L366.1,288.5 L368.9,293.2M350.6,283.8 L351.1,294.1M395.3,294.1 L394.4,298.8 L391.5,302.6 L387.8,307.3 L385.9,311.1 L384.9,313.9M417.9,242.6 L417.9,272 L414.1,273.3 L397.2,265M417.9,268.2 L446.1,268.2M446.1,268.2 L447,280M417.9,272 L416,287 L414.1,296.5 L417.9,302.1 L421,302M395.3,290.8 L393.4,300.2 L399.1,305.9 L406.6,305.9 L414.1,302.1M399.1,305.9 L395.3,311.5 L402.8,314.4 L410.4,311.5 L419.8,309.6 L422,305M385,319 L388.3,320 L395,320 L396.7,313.3M388.3,320 L390,325 L385,323.3M396.7,313.3 L405,311.7 L413.3,313.3 L421.7,311.7 L430,315 L431.7,320 L430,330 L430,336.7 L431.7,343.3 L430,348.3 L433.3,350 L430,351.7 L423.3,350 L416.7,355 L413.3,355 L413.3,346.7 L410,343.3 L405,344.2 L400,340 L393.3,338.3 L390,336.7M396.7,313.3 L395,320 L398.3,325 L395,333.3 L391.7,335M413.3,355 L413.3,366.7 L410,370.8M413.3,366.7 L421.7,370 L426.7,366.7 L430,363.3 L435,360 L436.7,355 L433.3,350M431.7,330 L440,331.7 L450,338.3M440,331.7 L443.3,348.3 L436.7,350M438.3,350 L441.7,356.7 L443.3,363.3 L440,365 L435,360M440,365 L438.3,373.3 L433.3,380 L435,386.7 L435,393.3M426.7,366.7 L421.7,371.7 L425,376.7 L430,380 L433.3,380M418,372.5 L421.7,371.7M495.5,232.5 L496.9,239.5 L498.4,246.6 L501.2,248 L508.2,246.6 L511.1,242.4 L515.3,238.1 L518.1,232.5 L518.1,226.8 L520.9,225.4M498.4,246.6 L501.2,253.6 L502.6,259M522.4,228.2 L525.2,233.9 L528,235.3 L526.6,239.5 L525.2,246.6 L520.9,252.2 L519.5,259.3 L518.1,262.1M522.4,225.4 L528,231.1 L530.8,233.9 L535.1,239.5 L537.9,243.8 L541.4,246.6M559.8,255.1 L561.2,252.9M568.2,252.2 L573.2,249.4 L577.4,248.7 L580.2,250.8 L578.8,253.6 L581.7,256.5 L584.5,262.1 L588.7,267.8 L592.9,267.8M560.5,256.5 L561.9,260.7 L564.7,260.7 L568.9,259.3 L570.4,263.5 L570.5,266.3M568.2,255 L570.4,255.1 L574.6,256.5 L573.2,263.5 L576,267.8 L576.3,272M457.6,223 L458,228 L454.1,228.2M458,228 L462,233 L464,238 L467,243 L469.4,246.5M448.2,239.4 L449,233 L454.1,228.2M617,323 L621,321.5 L625,320 L628,318 L631,316 L634,314M461,298 L464,302 L472,304.5 L467,312 L462,313 L458,315 L454,316 L450,314 L446,312 L444,311M458,315 L457,322 L458,328M444,311 L443,320 L441,328M437,315.5 L434,316 L432,322 L431,330M441,328 L449,332 L453,336M447,280 L446,287 L450,287 L455,289 L459,293 L462,293.5M446,287 L444,296 L441,303" fill="none" stroke="#3c5a6e" stroke-width="0.5" stroke-linejoin="round"/>
</svg>
<div class="t" id="title">Where are we falling behind on screening and testing for polio? 2023</div>
<div class="t sub" style="top:50px">Countries are considered to have adequate screening if they have a non-polio acute flaccid paralysis rate above</div>
<div class="t sub" style="top:68px">2 per 100,000 children, and adequate testing if they have a stool collection rate above 80%.</div>
<div id="logo"><div class="l" style="top:4.8px">Our World</div><div class="l" style="top:16.8px">in Data</div><div class="bar"></div></div>
<div class="sw" style="left:109px;top:516px;background:#10729a"></div><div class="t lg" style="left:128px;top:514.5px">Adequate screening and testing</div>
<div class="sw" style="left:340px;top:516px;background:#a858c8"></div><div class="t lg" style="left:358px;top:514.5px">Inadequate screening</div>
<div class="sw" style="left:506px;top:516px;background:#f8503e"></div><div class="t lg" style="left:524px;top:514.5px">Inadequate screening and testing</div>
<div class="sw" style="left:271px;top:535px;background:#fdba30"></div><div class="t lg" style="left:290px;top:533.5px">Inadequate testing</div>
<div class="sw" style="left:419px;top:535px;background:#b9ddf7"></div><div class="t lg" style="left:438px;top:533.5px">Low risk</div>
<svg class="sw" style="left:503px;top:535px;border:none" width="14" height="14"><rect x="0.5" y="0.5" width="13" height="13" fill="url(#hatch)" stroke="#bbb"/></svg><div class="t lg" style="left:521px;top:533.5px">No data</div>
<div class="t foot" style="left:16px;top:569px"><b style="letter-spacing:-0.4px">Data source:</b> World Health Organization (2024)</div>
<div class="t foot" style="right:19px;top:569px">OurWorldinData.org/polio | CC BY</div>
</body></html>
